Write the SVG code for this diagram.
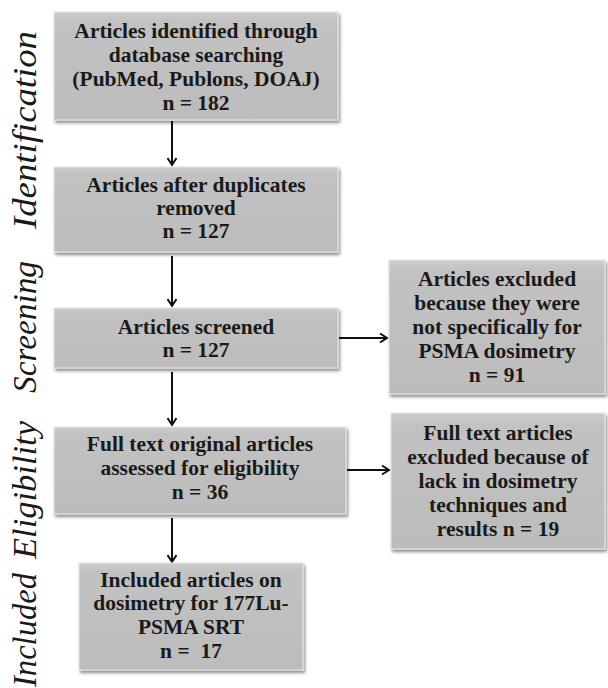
<svg xmlns="http://www.w3.org/2000/svg" width="608" height="688" viewBox="0 0 608 688">
<style>
.box{fill:url(#g);stroke:#e6e6e6;stroke-width:1;filter:url(#sh)}
.t{font-family:'Liberation Serif','DejaVu Serif',serif;font-weight:700;font-size:21.5px;fill:#1a1a1a;text-anchor:middle}
.side{font-family:'Liberation Serif','DejaVu Serif',serif;font-style:italic;font-size:33px;fill:#1a1a1a;text-anchor:middle}
.c{stroke:#111;stroke-width:2;fill:none;marker-end:url(#ah)}
</style>
<defs>
<linearGradient id="g" x1="0" y1="0" x2="0" y2="1">
<stop offset="0" stop-color="#cdcdcd"/>
<stop offset="0.08" stop-color="#c2c2c2"/>
<stop offset="1" stop-color="#bcbcbc"/>
</linearGradient>
<filter id="sh" x="-10%" y="-10%" width="125%" height="130%">
<feDropShadow dx="1.5" dy="2.5" stdDeviation="1.8" flood-color="#000" flood-opacity="0.45"/>
</filter>
<marker id="ah" markerWidth="12" markerHeight="12" refX="9" refY="6" orient="auto" markerUnits="userSpaceOnUse">
<path d="M2,1.5 L9,6 L2,10.5" fill="none" stroke="#111" stroke-width="2"/>
</marker>
</defs>
<rect width="608" height="688" fill="#fff"/>
<g id="side-labels">
<text class="side" transform="translate(36,130) rotate(-90)" textLength="198" lengthAdjust="spacingAndGlyphs">Identification</text>
<text class="side" transform="translate(36,327) rotate(-90)" textLength="132" lengthAdjust="spacingAndGlyphs">Screening</text>
<text class="side" transform="translate(36,490) rotate(-90)" textLength="138" lengthAdjust="spacingAndGlyphs">Eligibility</text>
<text class="side" transform="translate(36,630) rotate(-90)" textLength="114" lengthAdjust="spacingAndGlyphs">Included</text>
</g>
<g id="connectors">
<line class="c" x1="172" y1="121" x2="172" y2="165"/>
<line class="c" x1="172" y1="256" x2="172" y2="306"/>
<line class="c" x1="172" y1="372" x2="172" y2="425"/>
<line class="c" x1="172" y1="518" x2="172" y2="562"/>
<line class="c" x1="339" y1="338" x2="387" y2="338"/>
<line class="c" x1="347" y1="470" x2="389" y2="470"/>
</g>
<g id="n1">
<rect class="box" x="54" y="12" width="284" height="108"/>
<text class="t" x="196" y="38">Articles identified through</text>
<text class="t" x="196" y="62">database searching</text>
<text class="t" x="196" y="86">(PubMed, Publons, DOAJ)</text>
<text class="t" x="196" y="110">n = 182</text>
</g>
<g id="n2">
<rect class="box" x="54" y="167" width="284" height="85"/>
<text class="t" x="196" y="192">Articles after duplicates</text>
<text class="t" x="196" y="215">removed</text>
<text class="t" x="196" y="238">n = 127</text>
</g>
<g id="n3">
<rect class="box" x="54" y="308" width="284" height="60"/>
<text class="t" x="196" y="334">Articles screened</text>
<text class="t" x="196" y="357">n = 127</text>
</g>
<g id="n4">
<rect class="box" x="54" y="427" width="292" height="87"/>
<text class="t" x="200" y="451">Full text original articles</text>
<text class="t" x="200" y="475">assessed for eligibility</text>
<text class="t" x="200" y="499">n = 36</text>
</g>
<g id="n5">
<rect class="box" x="79" y="563" width="224" height="107"/>
<text class="t" x="191" y="587">Included articles on</text>
<text class="t" x="191" y="610">dosimetry for 177Lu-</text>
<text class="t" x="191" y="634">PSMA SRT</text>
<text class="t" x="191" y="658">n =&#160; 17</text>
</g>
<g id="n6">
<rect class="box" x="389" y="260" width="216" height="134"/>
<text class="t" x="497" y="286">Articles excluded</text>
<text class="t" x="497" y="310">because they were</text>
<text class="t" x="497" y="334">not specifically for</text>
<text class="t" x="497" y="358">PSMA dosimetry</text>
<text class="t" x="497" y="382">n = 91</text>
</g>
<g id="n7">
<rect class="box" x="391" y="413" width="214" height="136"/>
<text class="t" x="498" y="440">Full text articles</text>
<text class="t" x="498" y="464">excluded because of</text>
<text class="t" x="498" y="488">lack in dosimetry</text>
<text class="t" x="498" y="512">techniques and</text>
<text class="t" x="498" y="536">results n = 19</text>
</g>
</svg>
